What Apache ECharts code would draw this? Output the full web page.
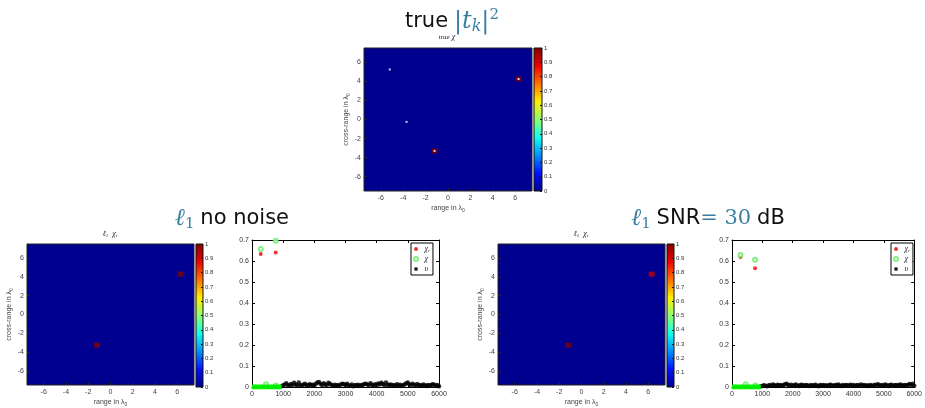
<!DOCTYPE html>
<html>
<head>
<meta charset="utf-8">
<script src="https://cdn.jsdelivr.net/npm/echarts@6/dist/echarts.min.js"></script>
<style>
html, body { margin: 0; padding: 0; background: #fff; }
#main { width: 925px; height: 408px; }
</style>
</head>
<body>
<div id="main"></div>
<script>
// tick positions on the range / cross-range axes (lambda units)
var posTicks = [-6, -4, -2, 0, 2, 4, 6];

// image cells: [range, cross-range, value]
var trueCells = [[6.3, 4.25, 1], [-1.2, -3.3, 1]];
var trueMarks = [[-5.2, 5.25], [-3.7, -0.25], [6.3, 4.25], [-1.2, -3.3]];
var cellsNoNoise = [[6.3, 4.3, 1], [-1.2, -3.25, 0.99]];
var cellsSnr30 = [[6.3, 4.3, 0.93], [-1.2, -3.25, 1]];

// reconstruction vs truth: [index, value]
var chiRNoNoise = [[280, 0.633], [760, 0.641]];
var chiNoNoise = [[280, 0.657], [760, 0.697], [450, 0.013], [770, 0.007]];
var chiRSnr30 = [[280, 0.619], [760, 0.566]];
var chiSnr30 = [[280, 0.628], [760, 0.606], [450, 0.013], [770, 0.007]];
var chiZeroSpan = [[0, 0], [950, 0]];

// noise part, one value every 50 indices from 950 to 6000
var noiseStart = 950, noiseStep = 50;
var noiseNoNoise = [
  0.004, 0.008, 0.012, 0.018, 0.010, 0.006, 0.014, 0.009, 0.020, 0.012,
  0.008, 0.022, 0.010, 0.006, 0.012, 0.015, 0.007, 0.010, 0.013, 0.009,
  0.011, 0.006, 0.016, 0.021, 0.024, 0.014, 0.010, 0.018, 0.012, 0.008,
  0.020, 0.015, 0.009, 0.006, 0.011, 0.007, 0.010, 0.005, 0.012, 0.016,
  0.013, 0.009, 0.015, 0.008, 0.006, 0.012, 0.004, 0.009, 0.007, 0.011,
  0.006, 0.010, 0.008, 0.014, 0.016, 0.012, 0.009, 0.018, 0.011, 0.007,
  0.013, 0.010, 0.017, 0.012, 0.020, 0.014, 0.008, 0.022, 0.011, 0.009,
  0.012, 0.007, 0.010, 0.006, 0.013, 0.008, 0.011, 0.005, 0.009, 0.012,
  0.018, 0.021, 0.012, 0.009, 0.015, 0.011, 0.007, 0.014, 0.008, 0.010,
  0.006, 0.012, 0.008, 0.005, 0.010, 0.007, 0.009, 0.013, 0.011, 0.006,
  0.009, 0.004
];
var noiseSnr30 = [
  0.003, 0.005, 0.008, 0.006, 0.004, 0.007, 0.010, 0.006, 0.012, 0.008,
  0.005, 0.011, 0.007, 0.009, 0.006, 0.010, 0.013, 0.016, 0.009, 0.007,
  0.011, 0.006, 0.008, 0.012, 0.007, 0.005, 0.009, 0.011, 0.006, 0.008,
  0.010, 0.007, 0.005, 0.009, 0.006, 0.008, 0.011, 0.006, 0.004, 0.009,
  0.007, 0.010, 0.006, 0.008, 0.005, 0.009, 0.011, 0.007, 0.006, 0.010,
  0.008, 0.012, 0.007, 0.005, 0.009, 0.006, 0.010, 0.008, 0.006, 0.011,
  0.007, 0.009, 0.005, 0.008, 0.010, 0.006, 0.012, 0.007, 0.009, 0.006,
  0.008, 0.005, 0.010, 0.007, 0.006, 0.011, 0.008, 0.013, 0.009, 0.006,
  0.010, 0.007, 0.012, 0.008, 0.005, 0.009, 0.011, 0.006, 0.008, 0.010,
  0.007, 0.009, 0.012, 0.006, 0.008, 0.010, 0.007, 0.011, 0.014, 0.009,
  0.016, 0.006
];

var jetColors = ['#00008f', '#0010ff', '#0090ff', '#10ffef', '#90ff70',
                 '#ffef00', '#ff7000', '#ef0000', '#800000'];
var teal = '#3a7fa3';

function noisePairs(vals) {
  return vals.map(function (v, i) { return [noiseStart + i * noiseStep, v]; });
}

function jetGradient() {
  return new echarts.graphic.LinearGradient(0, 1, 0, 0, jetColors.map(function (c, i) {
    return { offset: i / (jetColors.length - 1), color: c };
  }));
}

var smallFont = { fontFamily: 'Liberation Sans', fontSize: 7, color: '#444', fontWeight: 'normal' };
var subRich = { sub: { fontSize: 5, padding: [4, 0, 0, 0], color: '#444', fontFamily: 'Liberation Sans' } };
var plainNum = function (v) { return String(v); };

function imgX(g) {
  return {
    type: 'value', gridIndex: g, min: -7.5, max: 7.5,
    axisLine: { show: false, onZero: false },
    axisTick: { inside: true, length: 3, customValues: posTicks, lineStyle: { color: '#222' } },
    axisLabel: Object.assign({ customValues: posTicks, margin: 4 }, smallFont),
    splitLine: { show: false },
    name: 'range in λ{sub|0}', nameLocation: 'middle', nameGap: 13,
    nameTextStyle: Object.assign({ rich: subRich }, smallFont)
  };
}
function imgY(g) {
  return {
    type: 'value', gridIndex: g, min: -7.5, max: 7.5,
    axisLine: { show: false, onZero: false },
    axisTick: { inside: true, length: 3, customValues: posTicks, lineStyle: { color: '#222' } },
    axisLabel: Object.assign({ customValues: posTicks, margin: 3 }, smallFont),
    splitLine: { show: false },
    name: 'cross-range in λ{sub|0}', nameLocation: 'middle', nameGap: 12,
    nameTextStyle: Object.assign({ rich: subRich }, smallFont)
  };
}
function barX(g) {
  return { type: 'value', gridIndex: g, min: 0, max: 1, show: false };
}
function barY(g) {
  return {
    type: 'value', gridIndex: g, min: 0, max: 1, interval: 0.1, position: 'right',
    axisLine: { show: false, onZero: false },
    axisTick: { inside: true, length: 2, lineStyle: { color: '#111' } },
    axisLabel: { margin: 2, fontSize: 6, color: '#333', fontFamily: 'Liberation Sans' },
    splitLine: { show: false }
  };
}
function plotX(g, pos) {
  return {
    type: 'value', gridIndex: g, min: 0, max: 6000, interval: 1000, position: pos,
    axisLine: { onZero: false, lineStyle: { color: '#000', width: 1 } },
    axisTick: { inside: true, length: 3, lineStyle: { color: '#000' } },
    axisLabel: { show: pos === 'bottom', margin: 4, fontSize: 7, color: '#333',
                 fontFamily: 'Liberation Sans', formatter: plainNum },
    splitLine: { show: false }
  };
}
function plotY(g, pos) {
  return {
    type: 'value', gridIndex: g, min: 0, max: 0.7, interval: 0.1, position: pos,
    axisLine: { onZero: false, lineStyle: { color: '#000', width: 1 } },
    axisTick: { inside: true, length: 3, lineStyle: { color: '#000' } },
    axisLabel: { show: pos === 'left', margin: 3, fontSize: 7, color: '#333', fontFamily: 'Liberation Sans' },
    splitLine: { show: false }
  };
}

function imgGrid(l, t, w, h) {
  return { left: l, top: t, width: w, height: h, show: true, backgroundColor: '#00008f',
           borderColor: '#222', borderWidth: 1 };
}
function barGrid(l, t, w, h) {
  return { left: l, top: t, width: w, height: h, show: true, backgroundColor: jetGradient(),
           borderColor: '#111', borderWidth: 1 };
}

var titleRich = {
  a: { fontFamily: 'DejaVu Sans', fontSize: 21, color: '#111', lineHeight: 28, fontWeight: 'normal' },
  m: { fontFamily: 'DejaVu Serif', fontStyle: 'italic', fontSize: 24, color: teal, lineHeight: 28, fontWeight: 'normal' },
  n: { fontFamily: 'DejaVu Serif', fontSize: 21, color: teal, lineHeight: 28, fontWeight: 'normal' },
  k: { fontFamily: 'DejaVu Serif', fontStyle: 'italic', fontSize: 16, color: teal, padding: [10, 0, 0, 0], fontWeight: 'normal' },
  s: { fontFamily: 'DejaVu Serif', fontSize: 15, color: teal, padding: [10, 0, 0, 0], fontWeight: 'normal' },
  p: { fontFamily: 'DejaVu Serif', fontSize: 15, color: teal, padding: [0, 0, 13, 0], fontWeight: 'normal' }
};
var subTitleRich = {
  t: { fontFamily: 'Liberation Serif', fontSize: 7, color: '#222', fontWeight: 'normal' },
  i: { fontFamily: 'Liberation Serif', fontStyle: 'italic', fontSize: 8, color: '#222', fontWeight: 'normal' },
  s: { fontFamily: 'Liberation Serif', fontStyle: 'italic', fontSize: 5, color: '#222', padding: [3, 0, 0, 0], fontWeight: 'normal' }
};

function legendAt(l, t) {
  return {
    left: l, top: t, orient: 'vertical', itemWidth: 7, itemHeight: 4, itemGap: 2,
    padding: [2, 3, 2, 2], borderColor: '#000', borderWidth: 1, borderRadius: 0,
    backgroundColor: '#fff', selectedMode: false,
    data: ['χr', 'χ', 'υ'],
    formatter: function (n) { return n === 'χr' ? '{i|χ}{s|r}' : '{i|' + n + '}'; },
    textStyle: { fontSize: 6, fontWeight: 'normal', rich: subTitleRich }
  };
}

function plotSeries(xi, chiR, chi, noise) {
  return [
    { type: 'line', name: 'χ0', xAxisIndex: xi, yAxisIndex: xi, data: chiZeroSpan, symbol: 'none',
      lineStyle: { color: '#00ee00', width: 5 }, silent: true },
    { type: 'scatter', name: 'χr', xAxisIndex: xi, yAxisIndex: xi, data: chiR, symbol: 'circle',
      symbolSize: 4, itemStyle: { color: '#ee0000' } },
    { type: 'scatter', name: 'χ', xAxisIndex: xi, yAxisIndex: xi, data: chi, symbol: 'emptyCircle',
      symbolSize: 4, itemStyle: { color: '#66ee66', borderWidth: 0.7 } },
    { type: 'scatter', name: 'υ', xAxisIndex: xi, yAxisIndex: xi, data: noisePairs(noise), symbol: 'circle',
      symbolSize: 4.5, itemStyle: { color: '#000' } }
  ];
}

function cellSeries(xi, data) {
  return { type: 'scatter', xAxisIndex: xi, yAxisIndex: xi, data: data, symbol: 'rect',
           symbolSize: [6, 5], silent: true };
}

var option = {
  animation: false,
  backgroundColor: '#fff',
  title: [
    { text: '{a|true} {m||t}{k|k}{m||}{p|2}', left: 447, top: 3, textAlign: 'center',
      textStyle: { fontSize: 21, fontWeight: 'normal', rich: titleRich } },
    { text: '{m|ℓ}{s|1} {a|no noise}', left: 227, top: 200, textAlign: 'center',
      textStyle: { fontSize: 21, fontWeight: 'normal', rich: titleRich } },
    { text: '{m|ℓ}{s|1} {a|SNR}{n|= 30} {a|dB}', left: 703, top: 200, textAlign: 'center',
      textStyle: { fontSize: 21, fontWeight: 'normal', rich: titleRich } },
    { text: '{t|true} {i|χ}', left: 447, top: 33, textAlign: 'center', padding: 0,
      textStyle: { fontSize: 7, fontWeight: 'normal', rich: subTitleRich } },
    { text: '{i|ℓ}{s|1}  {i|χ}{s|r}', left: 110, top: 230, textAlign: 'center', padding: 0,
      textStyle: { fontSize: 7, fontWeight: 'normal', rich: subTitleRich } },
    { text: '{i|ℓ}{s|1}  {i|χ}{s|r}', left: 581, top: 230, textAlign: 'center', padding: 0,
      textStyle: { fontSize: 7, fontWeight: 'normal', rich: subTitleRich } }
  ],
  grid: [
    imgGrid(364, 48, 168, 143),
    barGrid(534, 48, 8, 143),
    imgGrid(27, 244, 167, 143),
    barGrid(196, 244, 7, 143),
    { left: 252, top: 240, width: 187, height: 147, show: false },
    imgGrid(498, 244, 167, 143),
    barGrid(667, 244, 7, 143),
    { left: 732, top: 240, width: 186, height: 147, show: false }
  ],
  xAxis: [
    imgX(0), barX(1), imgX(2), barX(3), plotX(4, 'bottom'),
    imgX(5), barX(6), plotX(7, 'bottom'),
    plotX(4, 'top'), plotX(7, 'top')
  ],
  yAxis: [
    imgY(0), barY(1), imgY(2), barY(3), plotY(4, 'left'),
    imgY(5), barY(6), plotY(7, 'left'),
    plotY(4, 'right'), plotY(7, 'right')
  ],
  legend: [legendAt(411, 243), legendAt(891, 243)],
  visualMap: {
    show: false, type: 'continuous', min: 0, max: 1, dimension: 2,
    seriesIndex: [0, 2, 3], inRange: { color: jetColors }
  },
  series: [
    cellSeries(0, trueCells),
    { type: 'scatter', xAxisIndex: 0, yAxisIndex: 0, data: trueMarks, symbol: 'rect',
      symbolSize: 2, itemStyle: { color: '#fff' }, silent: true },
    cellSeries(2, cellsNoNoise),
    cellSeries(5, cellsSnr30)
  ].concat(plotSeries(4, chiRNoNoise, chiNoNoise, noiseNoNoise))
   .concat(plotSeries(7, chiRSnr30, chiSnr30, noiseSnr30))
};

var chart = echarts.init(document.getElementById('main'));
chart.setOption(option);
</script>
</body>
</html>
